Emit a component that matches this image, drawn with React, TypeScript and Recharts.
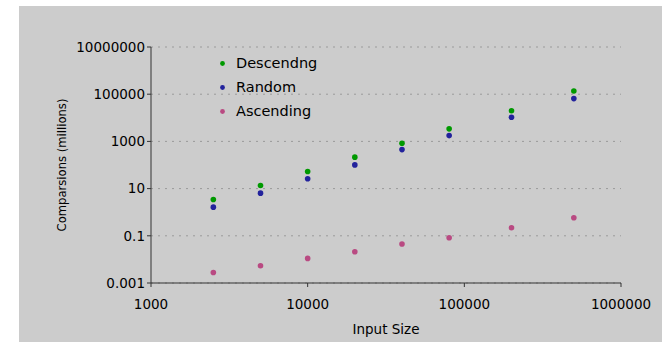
import React from 'react';
import { ScatterChart, Scatter, XAxis, YAxis, CartesianGrid, Legend } from 'recharts';

const inputSizes = [2500, 5000, 10000, 20000, 40000, 80000, 200000, 500000];
const descendingValues = [3.45, 13.5, 53, 215, 840, 3400, 20000, 137000];
const randomValues = [1.64, 6.4, 26, 101, 450, 1760, 10600, 65000];
const ascendingValues = [0.0028, 0.0054, 0.011, 0.021, 0.045, 0.083, 0.22, 0.58];
const seriesNames = ['Descendng', 'Random', 'Ascending'];
const seriesColors = ['#009900', '#22229c', '#b94a82'];
const xTicks = [1000, 10000, 100000, 1000000];
const yTicks = [0.001, 0.1, 10, 1000, 100000, 10000000];
const yTickLabels = ['0.001', '0.1', '10', '1000', '100000', '10000000'];

const toPoints = (vals: number[]) => inputSizes.map((x, i) => ({ x, y: vals[i] }));
const descData = toPoints(descendingValues);
const randData = toPoints(randomValues);
const ascData = toPoints(ascendingValues);

const FONT = '"DejaVu Sans", sans-serif';

const Dot = (props: any) => {
  const { cx, cy, fill } = props;
  if (cx == null || cy == null) return null;
  return <circle cx={cx} cy={cy} r={2.8} fill={fill} />;
};

const LegendContent = (props: any) => {
  const payload = [...(props.payload || [])].sort(
    (a: any, b: any) => seriesNames.indexOf(a.value) - seriesNames.indexOf(b.value)
  );
  return (
    <div style={{ fontFamily: FONT, fontSize: 14.5, color: '#000' }}>
      {payload.map((entry: any, i: number) => (
        <div key={i} style={{ height: 24, display: 'flex', alignItems: 'center' }}>
          <svg width={5} height={5} style={{ marginRight: 11 }}>
            <circle cx={2.5} cy={2.5} r={2.4} fill={entry.color} />
          </svg>
          <span>{entry.value}</span>
        </div>
      ))}
    </div>
  );
};

export default function App() {
  return (
    <div style={{ position: 'absolute', left: 0, top: 0, width: 662, height: 342, background: '#fff' }}>
      <div style={{ position: 'absolute', left: 19, top: 6, width: 643, height: 336, background: '#cccccc' }} />
      <div style={{ position: 'absolute', left: 0, top: 0 }}>
        <ScatterChart width={662} height={342} margin={{ top: 47, right: 41, left: 0, bottom: 0 }}>
          <CartesianGrid horizontal vertical={false} stroke="#9a9a9a" strokeDasharray="2 5" />
          <XAxis
            type="number"
            dataKey="x"
            scale="log"
            domain={[1000, 1000000]}
            ticks={xTicks}
            allowDataOverflow
            height={59}
            stroke="#333"
            tickSize={4}
            tickMargin={12}
            tick={{ fill: '#000', fontSize: 13.5, fontFamily: FONT }}
            tickFormatter={(v: number) => String(v)}
            label={{ value: 'Input Size', position: 'center', dy: 17, fill: '#000', fontSize: 13.5, fontFamily: FONT }}
          />
          <YAxis
            type="number"
            dataKey="y"
            scale="log"
            domain={[0.001, 10000000]}
            ticks={yTicks}
            allowDataOverflow
            width={151}
            stroke="#333"
            tickSize={4}
            tickMargin={2}
            tick={{ fill: '#000', fontSize: 13.5, fontFamily: FONT }}
            tickFormatter={(v: number) => yTickLabels[yTicks.indexOf(v)] ?? String(v)}
            label={{ value: 'Comparsions (millions)', angle: -90, position: 'center', dx: -13.5, fill: '#000', fontSize: 11.6, fontFamily: FONT }}
          />
          <Legend
            layout="vertical"
            verticalAlign="middle"
            align="center"
            content={<LegendContent />}
            wrapperStyle={{ position: 'absolute', left: 220, top: 51, width: 140 }}
          />
          <Scatter name={seriesNames[0]} data={descData} fill={seriesColors[0]} shape={<Dot />} isAnimationActive={false} />
          <Scatter name={seriesNames[1]} data={randData} fill={seriesColors[1]} shape={<Dot />} isAnimationActive={false} />
          <Scatter name={seriesNames[2]} data={ascData} fill={seriesColors[2]} shape={<Dot />} isAnimationActive={false} />
        </ScatterChart>
      </div>
    </div>
  );
}
